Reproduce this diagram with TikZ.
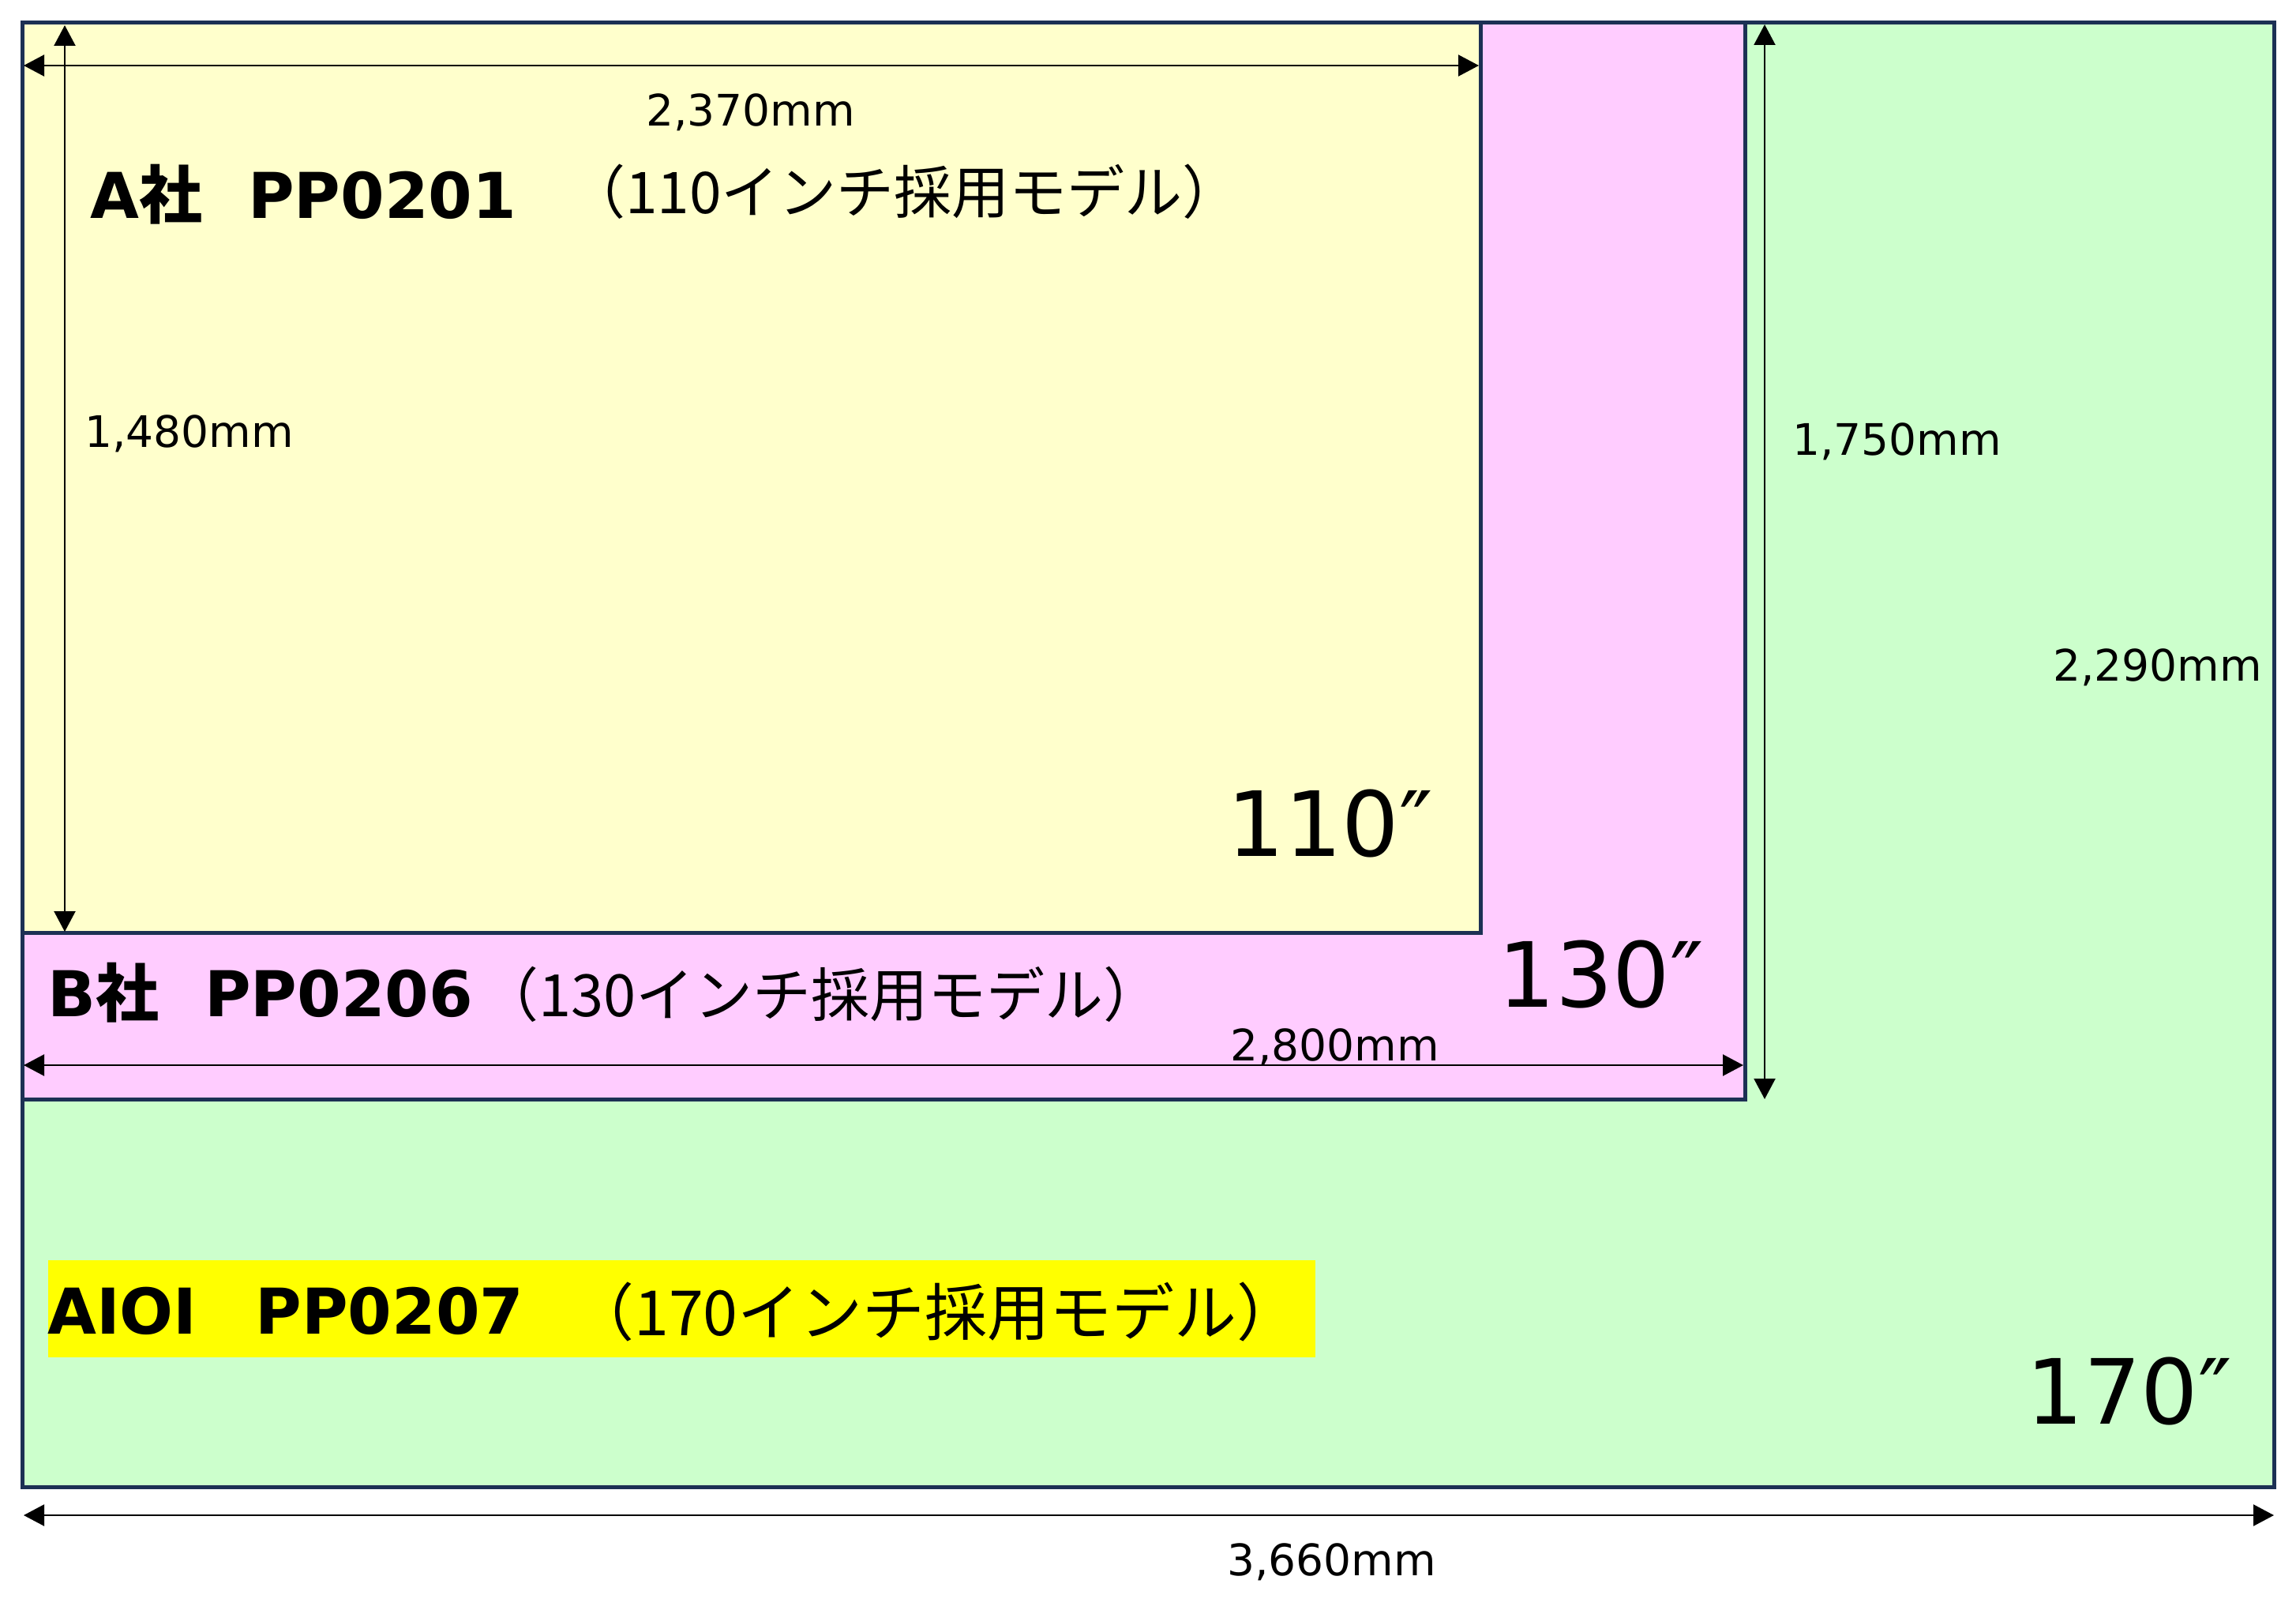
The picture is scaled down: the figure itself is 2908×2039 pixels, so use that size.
\documentclass[tikz,border=0pt]{standalone}
\usepackage{fontspec}
\setmainfont{DejaVu Sans}
\newfontfamily\jp{Noto Sans CJK JP}
\usetikzlibrary{arrows.meta}

\definecolor{frame}{RGB}{28,48,84}
\definecolor{screenA}{RGB}{255,255,204}
\definecolor{screenB}{RGB}{255,204,255}
\definecolor{screenC}{RGB}{204,255,204}
\definecolor{marker}{RGB}{255,255,0}

\newcommand{\fsz}[1]{\fontsize{#1}{#1}\selectfont}

\begin{document}
\begin{tikzpicture}[x=1pt,y=-1pt,
			screen box/.style={draw=frame,line width=5pt},
			dim line/.style={{Triangle[length=26pt,width=27pt]}-{Triangle[length=26pt,width=27pt]},line width=2.2pt},
			dim text/.style={inner sep=0pt,anchor=base west,font=\fsz{55}},
			inch text/.style={inner sep=0pt,anchor=base east,font=\fsz{114}},
			title text/.style={inner sep=0pt,anchor=base west,font=\bfseries\fsz{80}},
			model text/.style={inner sep=0pt,anchor=base west,font=\jp\fsz{73}}
			]

			\fill[white] (0,0) rectangle (2908,2039);
			\useasboundingbox (0,0) rectangle (2908,2039);

			% screens, largest first
			\filldraw[screen box,fill=screenC] (28.5,28.5) rectangle (2880,1883);
			\filldraw[screen box,fill=screenB] (28.5,28.5) rectangle (2210,1392);
			\filldraw[screen box,fill=screenA] (28.5,28.5) rectangle (1875,1181);
			\fill[marker] (61,1596) rectangle (1666,1719);

			\coordinate (w110l) at (30,83);
			\coordinate (w110r) at (1873,83);
			\coordinate (h110t) at (82,32);
			\coordinate (h110b) at (82,1180);
			\coordinate (w130l) at (30,1349);
			\coordinate (w130r) at (2208,1349);
			\coordinate (h130t) at (2235,31);
			\coordinate (h130b) at (2235,1392);
			\coordinate (w170l) at (30,1919);
			\coordinate (w170r) at (2880,1919);

			\draw[dim line] (w110l) -- (w110r);
			\draw[dim line] (h110t) -- (h110b);
			\draw[dim line] (w130l) -- (w130r);
			\draw[dim line] (h130t) -- (h130b);
			\draw[dim line] (w170l) -- (w170r);

			\node[dim text] (d2370) at (818,160) {2,370mm};
			\node[dim text] (d1480) at (107,566) {1,480mm};
			\node[dim text] (d2800) at (1558,1343) {2,800mm};
			\node[dim text] (d1750) at (2270,576) {1,750mm};
			\node[dim text] (d2290) at (2600,862) {2,290mm};
			\node[dim text] (d3660) at (1554,1995) {3,660mm};

			\node[title text] (tA) at (114,276) {A{\jp 社}\hspace{58pt}PP0201};
			\node[model text] (mA) at (719,270) {（110インチ採用モデル）};
			\node[title text] (tB) at (60,1287) {B{\jp 社}\hspace{58pt}PP0206};
			\node[model text,font=\jp\fsz{74}] (mB) at (608,1287) {（130インチ採用モデル）};
			\node[title text] (tC) at (60,1689) {AIOI\hspace{74pt}PP0207};
			\node[model text,font=\jp\fsz{79}] (mC) at (724,1691) {（170インチ採用モデル）};

			\node[inch text] (i110) at (1815,1084) {110″};
			\node[inch text] (i130) at (2158,1275) {130″};
			\node[inch text] (i170) at (2827,1803) {170″};
		\end{tikzpicture}
\end{document}
